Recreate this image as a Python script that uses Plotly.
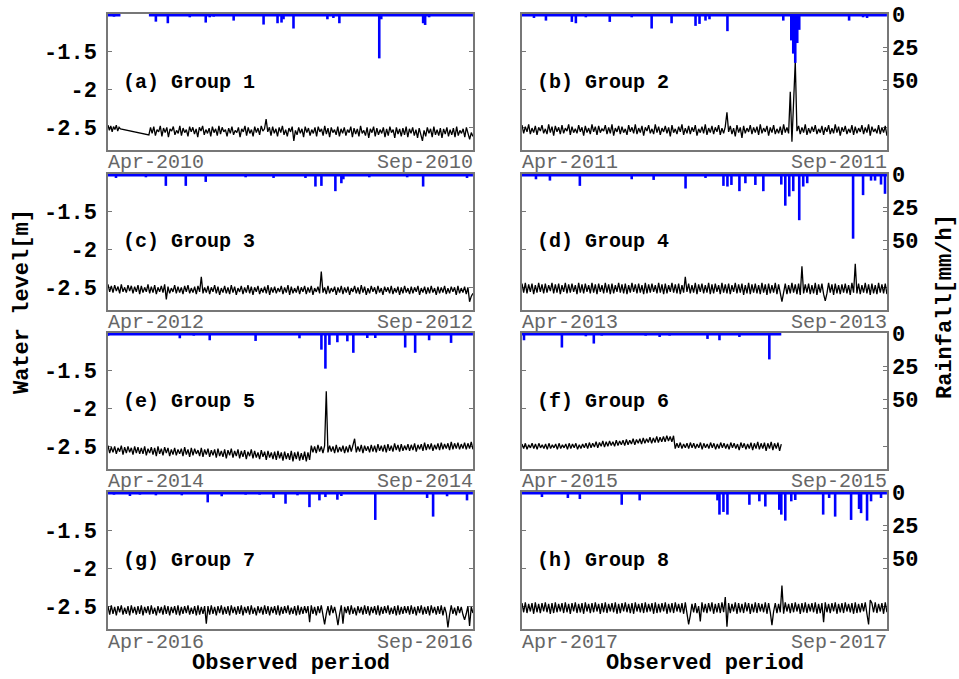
import pandas as pd
import plotly.graph_objects as go

# ---------------- data ----------------
years = [2010, 2011, 2012, 2013, 2014, 2015, 2016, 2017]
letters = ["a", "b", "c", "d", "e", "f", "g", "h"]
groups = ["Group 1", "Group 2", "Group 3", "Group 4", "Group 5", "Group 6", "Group 7", "Group 8"]
start_label = ["Apr-2010", "Apr-2011", "Apr-2012", "Apr-2013", "Apr-2014", "Apr-2015", "Apr-2016", "Apr-2017"]
end_label = ["Sep-2010", "Sep-2011", "Sep-2012", "Sep-2013", "Sep-2014", "Sep-2015", "Sep-2016", "Sep-2017"]
water_ticks = [-2.5, -2, -1.5]
water_tick_text = ["-2.5", "-2", "-1.5"]
rain_ticks = [0, 25, 50]

# observation periods (month-day) of each record
obs_a = [("04-01 00:00", "04-07 06:00"), ("04-21 12:00", "09-30 23:00")]
obs_b = [("04-01 00:00", "09-30 23:00")]
obs_c = [("04-01 00:00", "09-30 23:00")]
obs_d = [("04-01 00:00", "09-30 23:00")]
obs_e = [("04-01 00:00", "09-30 23:00")]
obs_f = [("04-01 00:00", "08-09 00:00")]
obs_g = [("04-01 00:00", "09-30 23:00")]
obs_h = [("04-01 00:00", "09-30 23:00")]

# water level, given as depth below datum in cm (level [m] = -depth / 100)
depth_a1 = [247, 254, 248, 256, 249, 253, 247, 255, 250, 252]
depth_a2 = [260, 250, 258, 249, 261, 253, 256, 248, 262, 251, 257, 250, 263, 252, 255, 249, 260, 254, 258, 248,
            261, 251, 257, 253, 262, 249, 256, 250, 259, 252, 263, 250, 255, 248, 260, 253, 258, 251, 262, 249,
            257, 252, 261, 248, 259, 250, 256, 253, 262, 251, 258, 249, 260, 254, 257, 250, 263, 252, 256, 248,
            261, 250, 258, 253, 262, 249, 257, 251, 260, 248, 255, 252, 239, 256, 250, 261, 249, 258, 252, 262,
            250, 257, 248, 260, 253, 262, 251, 256, 249, 268, 254, 260, 250, 258, 252, 263, 249, 257, 251, 261,
            253, 258, 250, 262, 249, 256, 252, 261, 248, 259, 251, 263, 250, 257, 253, 260, 249, 262, 252, 258,
            250, 261, 253, 257, 249, 263, 251, 259, 252, 262, 248, 258, 254, 261, 250, 264, 252, 257, 249, 262,
            251, 260, 253, 258, 250, 263, 252, 261, 249, 257, 253, 264, 250, 259, 252, 262, 251, 260, 249, 263,
            252, 258, 250, 261, 253, 264, 251, 259, 268, 254, 262, 250, 258, 252, 263, 249, 260, 253, 261, 251,
            264, 252, 259, 250, 262, 253, 260, 251, 263, 249, 261, 254, 258, 252, 263, 250, 260, 266, 257, 262]
depth_b = [247, 258, 249, 256, 246, 259, 251, 257, 248, 260, 250, 255, 247, 258, 252, 259, 246, 257, 249, 261,
           248, 256, 250, 259, 247, 258, 251, 255, 246, 260, 249, 257, 252, 258, 247, 256, 250, 261, 248, 257,
           251, 259, 246, 256, 249, 260, 248, 257, 252, 255, 247, 259, 250, 258, 246, 261, 251, 256, 248, 259,
           249, 257, 252, 260, 247, 256, 250, 258, 246, 259, 251, 257, 248, 261, 250, 255, 247, 258, 252, 259,
           246, 257, 249, 260, 251, 256, 248, 258, 250, 262, 247, 257, 252, 259, 249, 256, 246, 260, 251, 258,
           248, 259, 250, 256, 247, 261, 252, 257, 249, 258, 246, 260, 251, 257, 248, 259, 250, 256, 247, 260,
           251, 258, 249, 230, 256, 248, 259, 251, 262, 247, 257, 250, 264, 248, 258, 251, 256, 247, 259, 250,
           257, 249, 260, 246, 258, 251, 256, 248, 261, 250, 257, 247, 259, 252, 258, 249, 260, 246, 257, 250,
           258, 203, 269, 223, 163, 255, 248, 259, 250, 257, 246, 260, 251, 258, 249, 256, 247, 259, 252, 257,
           248, 260, 250, 256, 247, 259, 251, 258, 246, 257, 249, 261, 250, 256, 248, 259, 252, 257, 247, 260,
           249, 258, 251, 256, 247, 259, 250, 257, 246, 261, 249, 256, 252, 258, 247, 259, 250, 257, 248, 261]
depth_c = [246, 256, 248, 257, 247, 255, 249, 258, 246, 256, 250, 257, 247, 255, 248, 258, 249, 256, 247, 259,
           248, 257, 250, 256, 246, 258, 249, 257, 247, 259, 250, 256, 248, 257, 246, 266, 249, 258, 251, 256,
           247, 258, 249, 257, 250, 259, 248, 256, 247, 258, 251, 257, 249, 259, 248, 256, 236, 258, 250, 257,
           248, 259, 250, 256, 247, 258, 249, 260, 251, 257, 248, 258, 250, 259, 247, 257, 249, 260, 251, 256,
           248, 259, 250, 257, 247, 258, 249, 260, 250, 256, 248, 259, 251, 257, 249, 258, 247, 260, 250, 257,
           249, 258, 251, 256, 248, 259, 250, 257, 247, 260, 249, 258, 251, 257, 248, 259, 250, 256, 248, 259,
           250, 257, 248, 260, 251, 256, 249, 258, 229, 257, 250, 259, 248, 258, 251, 256, 249, 260, 250, 257,
           248, 259, 250, 257, 249, 260, 251, 256, 248, 258, 250, 259, 247, 257, 249, 260, 251, 258, 248, 256,
           250, 259, 248, 257, 251, 260, 249, 256, 250, 258, 248, 259, 251, 257, 249, 260, 250, 258, 248, 257,
           251, 259, 249, 258, 250, 256, 248, 260, 251, 257, 249, 259, 250, 258, 248, 257, 251, 260, 249, 258,
           250, 257, 248, 259, 251, 258, 249, 256, 250, 260, 248, 258, 251, 257, 249, 259, 250, 269, 262, 258]
depth_d = [245, 257, 244, 258, 246, 256, 245, 259, 247, 257, 244, 256, 246, 258, 245, 257, 247, 255, 244, 258,
           246, 257, 245, 259, 247, 256, 244, 258, 246, 257, 245, 256, 247, 259, 244, 257, 246, 258, 245, 256,
           247, 258, 244, 257, 246, 259, 245, 256, 247, 258, 244, 257, 246, 259, 245, 258, 247, 256, 244, 257,
           246, 258, 245, 259, 247, 257, 244, 256, 246, 258, 245, 257, 247, 259, 244, 258, 246, 257, 245, 256,
           247, 258, 244, 257, 246, 259, 245, 258, 247, 256, 244, 257, 246, 258, 245, 259, 247, 257, 236, 256,
           245, 258, 247, 257, 244, 259, 246, 256, 245, 258, 247, 257, 244, 259, 246, 258, 245, 256, 247, 259,
           244, 257, 246, 258, 245, 259, 247, 256, 244, 258, 246, 257, 245, 260, 247, 258, 244, 259, 246, 257,
           245, 258, 247, 259, 244, 257, 246, 260, 245, 258, 247, 257, 244, 259, 246, 258, 269, 257, 245, 259,
           247, 258, 244, 257, 246, 259, 245, 260, 222, 258, 246, 257, 245, 259, 247, 258, 244, 260, 246, 257,
           245, 259, 268, 258, 244, 257, 246, 260, 245, 258, 247, 259, 246, 257, 245, 258, 247, 260, 244, 257,
           219, 258, 245, 259, 247, 257, 244, 258, 246, 260, 245, 258, 247, 259, 244, 257, 246, 258, 245, 259]
depth_e = [249, 259, 251, 258, 250, 260, 252, 257, 249, 261, 251, 259, 250, 258, 252, 261, 250, 259, 251, 260,
           252, 260, 250, 262, 253, 259, 251, 261, 252, 263, 250, 260, 253, 262, 251, 259, 252, 263, 254, 261,
           252, 262, 254, 260, 253, 263, 251, 261, 254, 264, 252, 262, 253, 260, 255, 263, 252, 264, 254, 261,
           253, 264, 255, 262, 254, 265, 253, 263, 256, 264, 254, 266, 255, 262, 253, 265, 256, 263, 254, 266,
           256, 264, 255, 267, 257, 263, 254, 266, 256, 265, 258, 267, 255, 264, 257, 268, 256, 265, 258, 267,
           257, 268, 256, 266, 258, 269, 257, 267, 259, 268, 256, 270, 258, 267, 257, 269, 259, 268, 257, 270,
           258, 268, 249, 258, 250, 259, 248, 257, 250, 259, 249, 177, 258, 249, 257, 250, 259, 248, 258, 251,
           257, 249, 259, 250, 258, 248, 257, 249, 240, 258, 250, 257, 248, 259, 249, 256, 250, 258, 248, 257,
           249, 258, 247, 256, 249, 257, 248, 258, 247, 256, 249, 257, 246, 255, 248, 257, 247, 256, 249, 255,
           247, 256, 248, 255, 246, 257, 248, 254, 247, 256, 245, 255, 247, 254, 246, 256, 248, 254, 246, 255,
           245, 254, 247, 253, 246, 255, 244, 254, 246, 253, 245, 254, 247, 253, 245, 254, 246, 253, 244, 254]
depth_f = [247, 253, 246, 254, 248, 252, 246, 253, 247, 254, 246, 252, 248, 253, 247, 254, 246, 253, 248, 252,
           247, 254, 246, 253, 248, 252, 247, 254, 246, 253, 247, 252, 246, 254, 248, 253, 247, 252, 246, 253,
           245, 252, 246, 251, 244, 252, 245, 250, 243, 251, 244, 250, 243, 249, 244, 250, 242, 249, 243, 248,
           242, 249, 241, 248, 242, 247, 240, 248, 241, 246, 240, 247, 239, 246, 240, 245, 238, 246, 239, 245,
           237, 245, 238, 244, 237, 244, 236, 243, 237, 244, 236, 253, 246, 252, 245, 253, 247, 252, 246, 253,
           245, 252, 246, 253, 247, 252, 245, 254, 246, 252, 247, 253, 245, 252, 246, 254, 247, 253, 245, 252,
           246, 253, 247, 254, 245, 252, 246, 253, 247, 255, 245, 252, 246, 254, 247, 253, 245, 255, 246, 253,
           244, 254, 246, 253, 245, 256, 246, 253, 244, 255, 246, 253, 245, 256, 247]
depth_g = [250, 261, 249, 260, 251, 262, 250, 258, 249, 261, 252, 260, 250, 262, 249, 259, 251, 261, 250, 260,
           249, 262, 251, 259, 250, 261, 249, 260, 252, 262, 250, 259, 251, 261, 249, 260, 250, 262, 251, 259,
           250, 261, 249, 262, 251, 260, 250, 259, 249, 261, 252, 260, 250, 262, 249, 261, 251, 260, 250, 273,
           250, 261, 249, 260, 251, 262, 250, 259, 249, 261, 251, 260, 250, 262, 249, 259, 251, 261, 250, 260,
           249, 262, 251, 259, 250, 261, 249, 260, 252, 262, 250, 259, 251, 261, 249, 260, 250, 262, 251, 259,
           250, 261, 249, 262, 251, 260, 250, 259, 249, 261, 252, 260, 250, 262, 249, 261, 251, 260, 250, 259,
           250, 271, 249, 260, 251, 262, 250, 259, 249, 261, 274, 260, 250, 262, 249, 259, 251, 261, 275, 260,
           249, 273, 251, 259, 250, 261, 249, 260, 252, 262, 250, 259, 251, 261, 249, 260, 250, 262, 251, 259,
           250, 261, 249, 262, 251, 260, 250, 259, 249, 261, 252, 260, 250, 262, 249, 261, 251, 260, 250, 259,
           250, 261, 249, 260, 251, 262, 250, 259, 249, 261, 251, 260, 250, 262, 249, 259, 251, 261, 250, 260,
           249, 262, 251, 259, 278, 261, 249, 260, 252, 262, 250, 259, 251, 261, 268, 260, 250, 276, 251, 259]
depth_h = [246, 258, 245, 259, 247, 257, 246, 260, 245, 258, 247, 259, 246, 257, 245, 258, 247, 260, 246, 259,
           245, 258, 247, 257, 246, 259, 245, 258, 247, 260, 246, 257, 245, 259, 247, 258, 246, 260, 245, 257,
           247, 259, 246, 258, 245, 257, 247, 260, 246, 258, 245, 259, 247, 257, 246, 258, 245, 260, 247, 259,
           246, 257, 245, 258, 247, 259, 246, 260, 245, 257, 247, 258, 246, 259, 245, 258, 247, 257, 246, 260,
           245, 259, 247, 258, 246, 257, 245, 260, 247, 258, 246, 259, 245, 257, 247, 258, 246, 260, 245, 259,
           274, 262, 247, 258, 246, 259, 250, 270, 245, 258, 247, 259, 246, 257, 245, 260, 247, 258, 246, 259,
           245, 258, 238, 277, 246, 259, 247, 257, 245, 260, 246, 258, 247, 259, 245, 257, 246, 260, 247, 258,
           245, 259, 246, 257, 247, 258, 245, 260, 246, 258, 275, 257, 246, 259, 247, 258, 223, 260, 245, 257,
           247, 259, 246, 258, 245, 257, 247, 260, 246, 258, 245, 259, 247, 257, 246, 258, 245, 260, 247, 259,
           246, 271, 245, 258, 247, 259, 246, 257, 245, 260, 247, 258, 246, 259, 245, 257, 247, 258, 246, 260,
           245, 259, 247, 258, 246, 257, 245, 260, 274, 242, 246, 258, 245, 259, 247, 257, 246, 260, 245, 258]

# rainfall [mm/h] events (month-day, intensity)
rain_a_day = ["04-02", "04-04", "04-06", "04-25", "05-01", "05-12", "05-20", "05-22", "05-24", "06-03",
              "06-18", "06-25", "06-27", "06-28", "07-03", "07-20", "07-23", "07-26", "08-15", "08-16",
              "09-06", "09-07", "09-09"]
rain_a_mm = [1.5, 2, 1.5, 5.8, 7, 2.5, 6.5, 2.5, 2, 5, 8, 7, 6.5, 4, 11, 4, 3, 7, 33.6, 4, 7, 8.3, 2.5]
rain_b_day = ["04-07", "04-13", "04-26", "04-28", "05-03", "05-15", "05-26", "06-05", "06-15", "06-27",
              "06-29", "07-02", "07-04", "07-13", "08-10", "08-14", "08-15", "08-16", "08-17", "08-18",
              "09-12", "09-19", "09-21"]
rain_b_mm = [3, 5, 6, 7, 2.5, 6, 2.5, 11, 7, 9, 7.5, 5, 4, 13, 5, 20, 30, 37, 22, 12, 5, 2.5, 3]
rain_c_day = ["04-05", "04-20", "04-30", "05-10", "05-20", "06-09", "06-23", "07-09", "07-14", "07-17",
              "07-24", "07-27", "07-28", "08-10", "08-29", "09-06", "09-28"]
rain_c_mm = [3, 2.5, 9, 9, 6, 2.5, 3, 3, 9.5, 9, 13, 7, 4, 2.5, 2.5, 9.5, 3]
rain_d_day = ["04-08", "04-15", "04-30", "05-26", "06-06", "06-22", "07-02", "07-11", "07-13", "07-15",
              "07-19", "07-22", "07-27", "07-31", "08-09", "08-11", "08-13", "08-15", "08-18", "08-20",
              "08-22", "09-14", "09-19", "09-23", "09-25", "09-28", "09-30"]
rain_d_mm = [4, 5, 9, 4, 4.5, 11, 3, 9, 9.5, 8.3, 13, 7, 8.3, 13, 8, 24, 17, 13, 35, 9.5, 7, 49, 16, 5, 5, 8, 15]
rain_e_day = ["04-01", "04-25", "05-07", "05-14", "05-22", "06-14", "07-06", "07-17", "07-19", "07-21",
              "07-25", "07-30", "08-02", "08-09", "08-13", "08-28", "09-02", "09-09", "09-20"]
rain_e_mm = [2, 1, 4, 2, 5.5, 6, 4, 12.6, 27, 9, 7, 6.3, 15, 3.8, 3.8, 11, 15, 5.5, 7.5]
rain_f_day = ["04-02", "04-21", "05-03", "05-07", "05-11", "05-29", "06-02", "06-06", "06-09", "06-14",
              "07-03", "07-09", "07-19", "08-03"]
rain_f_mm = [5.5, 11, 2.5, 8, 2, 1.5, 2, 1.5, 3, 2, 4.5, 5.5, 3, 20]
rain_g_day = ["04-04", "04-12", "04-17", "04-25", "05-08", "05-21", "05-28", "06-09", "06-16", "06-23",
              "06-29", "07-05", "07-11", "07-16", "07-19", "07-25", "07-27", "08-13", "09-08", "09-11",
              "09-18", "09-28"]
rain_g_mm = [2, 3, 2, 2.5, 2.5, 7.8, 3.2, 2, 2, 4.5, 8.8, 2.5, 11.4, 6.3, 3.8, 5.8, 3, 21, 4.5, 18.5, 3.2, 6.3]
rain_h_day = ["04-11", "04-24", "04-30", "05-21", "05-30", "07-08", "07-09", "07-11", "07-13", "07-24",
              "07-29", "08-01", "08-08", "08-09", "08-11", "08-14", "08-16", "08-30", "09-02", "09-05",
              "09-13", "09-17", "09-18", "09-21", "09-23", "09-28"]
rain_h_mm = [3.8, 4.5, 5.3, 9.6, 6.3, 6.3, 17, 15, 17, 9.6, 7, 10.9, 13.4, 17, 21.5, 7, 6, 17, 4.5, 18.5,
             21, 12.8, 15.9, 21.5, 7, 4.5]

# ---------------- build ----------------
obs_all = [obs_a, obs_b, obs_c, obs_d, obs_e, obs_f, obs_g, obs_h]
depth_all = [[depth_a1, depth_a2], [depth_b], [depth_c], [depth_d], [depth_e], [depth_f], [depth_g], [depth_h]]
rain_days = [rain_a_day, rain_b_day, rain_c_day, rain_d_day, rain_e_day, rain_f_day, rain_g_day, rain_h_day]
rain_mms = [rain_a_mm, rain_b_mm, rain_c_mm, rain_d_mm, rain_e_mm, rain_f_mm, rain_g_mm, rain_h_mm]

W, H = 959, 679
col_px = [(108, 473), (522, 887)]
row_px = [(14, 150), (174, 310), (333, 469), (492, 629)]

FONT = "Liberation Mono, Courier New, monospace"
FRAME = "#777777"
BLUE = "#0000FF"

fig = go.Figure()
layout = dict(width=W, height=H, margin=dict(l=0, r=0, t=0, b=0, autoexpand=False),
              paper_bgcolor="white", plot_bgcolor="white", showlegend=False,
              barmode="overlay")
annotations = []

for i in range(8):
    r, c = divmod(i, 2)
    yr = years[i]
    xa = "x" if i == 0 else f"x{i+1}"
    ya_w = "y" if i == 0 else f"y{2*i+1}"
    ya_r = f"y{2*i+2}"
    xdom = [col_px[c][0] / W, col_px[c][1] / W]
    ydom = [1 - row_px[r][1] / H, 1 - row_px[r][0] / H]

    # water level
    xs, ys = [], []
    for (s, e), vals in zip(obs_all[i], depth_all[i]):
        xs += list(pd.date_range(f"{yr}-{s}", f"{yr}-{e}", periods=len(vals)))
        ys += [-v / 100 for v in vals]
    fig.add_trace(go.Scatter(x=xs, y=ys, mode="lines", line=dict(color="black", width=1.3),
                             xaxis=xa, yaxis=ya_w, hoverinfo="skip"))

    # rainfall bars
    fig.add_trace(go.Bar(x=[f"{yr}-{d}" for d in rain_days[i]], y=rain_mms[i],
                         width=1.3 * 86400000, marker=dict(color=BLUE, line=dict(width=0)),
                         xaxis=xa, yaxis=ya_r, hoverinfo="skip"))
    # rainfall zero line over observed periods
    bx, by = [], []
    for (s, e) in obs_all[i]:
        if bx:
            bx.append(None); by.append(None)
        bx += [f"{yr}-{s}", f"{yr}-{e}"]
        by += [0, 0]
    fig.add_trace(go.Scatter(x=bx, y=by, mode="lines", line=dict(color=BLUE, width=5),
                             xaxis=xa, yaxis=ya_r, hoverinfo="skip"))

    key_x = "xaxis" if i == 0 else f"xaxis{i+1}"
    key_yw = "yaxis" if i == 0 else f"yaxis{2*i+1}"
    key_yr = f"yaxis{2*i+2}"
    layout[key_x] = dict(domain=xdom, anchor=ya_w, type="date", automargin=False,
                         range=[f"{yr}-04-01", f"{yr}-10-01"],
                         showline=True, mirror=True, linecolor=FRAME, linewidth=1.5,
                         ticks="", showticklabels=False, showgrid=False, zeroline=False,
                         layer="below traces")
    layout[key_yw] = dict(domain=ydom, anchor=xa, range=[-2.8, -1.0], automargin=False,
                          tickmode="array", tickvals=water_ticks, ticktext=water_tick_text,
                          showticklabels=(c == 0), ticks="inside", ticklen=4, tickcolor=FRAME,
                          showline=True, mirror="ticks", linecolor=FRAME, linewidth=1.5,
                          showgrid=False, zeroline=False, ticklabelstandoff=5,
                          tickfont=dict(family=FONT, size=22, color="black", weight="bold"),
                          layer="below traces")
    layout[key_yr] = dict(overlaying=ya_w, anchor=xa, side="right", range=[103, 0],
                          automargin=False,
                          tickmode="array", tickvals=rain_ticks,
                          showticklabels=(c == 1), ticks=("inside" if c == 1 else ""),
                          ticklen=4, tickcolor=FRAME, showline=False, showgrid=False,
                          zeroline=False, ticklabelstandoff=4,
                          tickfont=dict(family=FONT, size=22, color="black", weight="bold"),
                          layer="below traces")

    annotations.append(dict(xref=f"{xa} domain", yref=f"{ya_w} domain", x=0.035, y=0.5,
                            xanchor="left", yanchor="middle", showarrow=False,
                            text=f"({letters[i]}) {groups[i]}",
                            font=dict(family=FONT, size=20, color="black", weight="bold")))
    annotations.append(dict(xref=f"{xa} domain", yref=f"{ya_w} domain", x=0, y=-0.095,
                            xanchor="left", yanchor="middle", showarrow=False, xshift=-2,
                            text=start_label[i], font=dict(family=FONT, size=20, color="#666666")))
    annotations.append(dict(xref=f"{xa} domain", yref=f"{ya_w} domain", x=1, y=-0.095,
                            xanchor="right", yanchor="middle", showarrow=False, xshift=2,
                            text=end_label[i], font=dict(family=FONT, size=20, color="#666666")))

title_font = dict(family=FONT, size=22, color="black", weight="bold")
annotations.append(dict(xref="paper", yref="paper", x=22 / W, y=1 - 302 / H, text="Water level[m]",
                        textangle=-90, showarrow=False, xanchor="center", yanchor="middle", font=title_font))
annotations.append(dict(xref="paper", yref="paper", x=946 / W, y=1 - 307 / H, text="Rainfall[mm/h]",
                        textangle=-90, showarrow=False, xanchor="center", yanchor="middle", font=title_font))
for cx in [(col_px[0][0] + col_px[0][1]) / 2, (col_px[1][0] + col_px[1][1]) / 2]:
    annotations.append(dict(xref="paper", yref="paper", x=cx / W, y=1 - 663 / H, text="Observed period",
                            showarrow=False, xanchor="center", yanchor="middle",
                            font=dict(family=FONT, size=22, color="black", weight="bold")))

layout["annotations"] = annotations
fig.update_layout(**layout)
fig.write_html("out.html")
